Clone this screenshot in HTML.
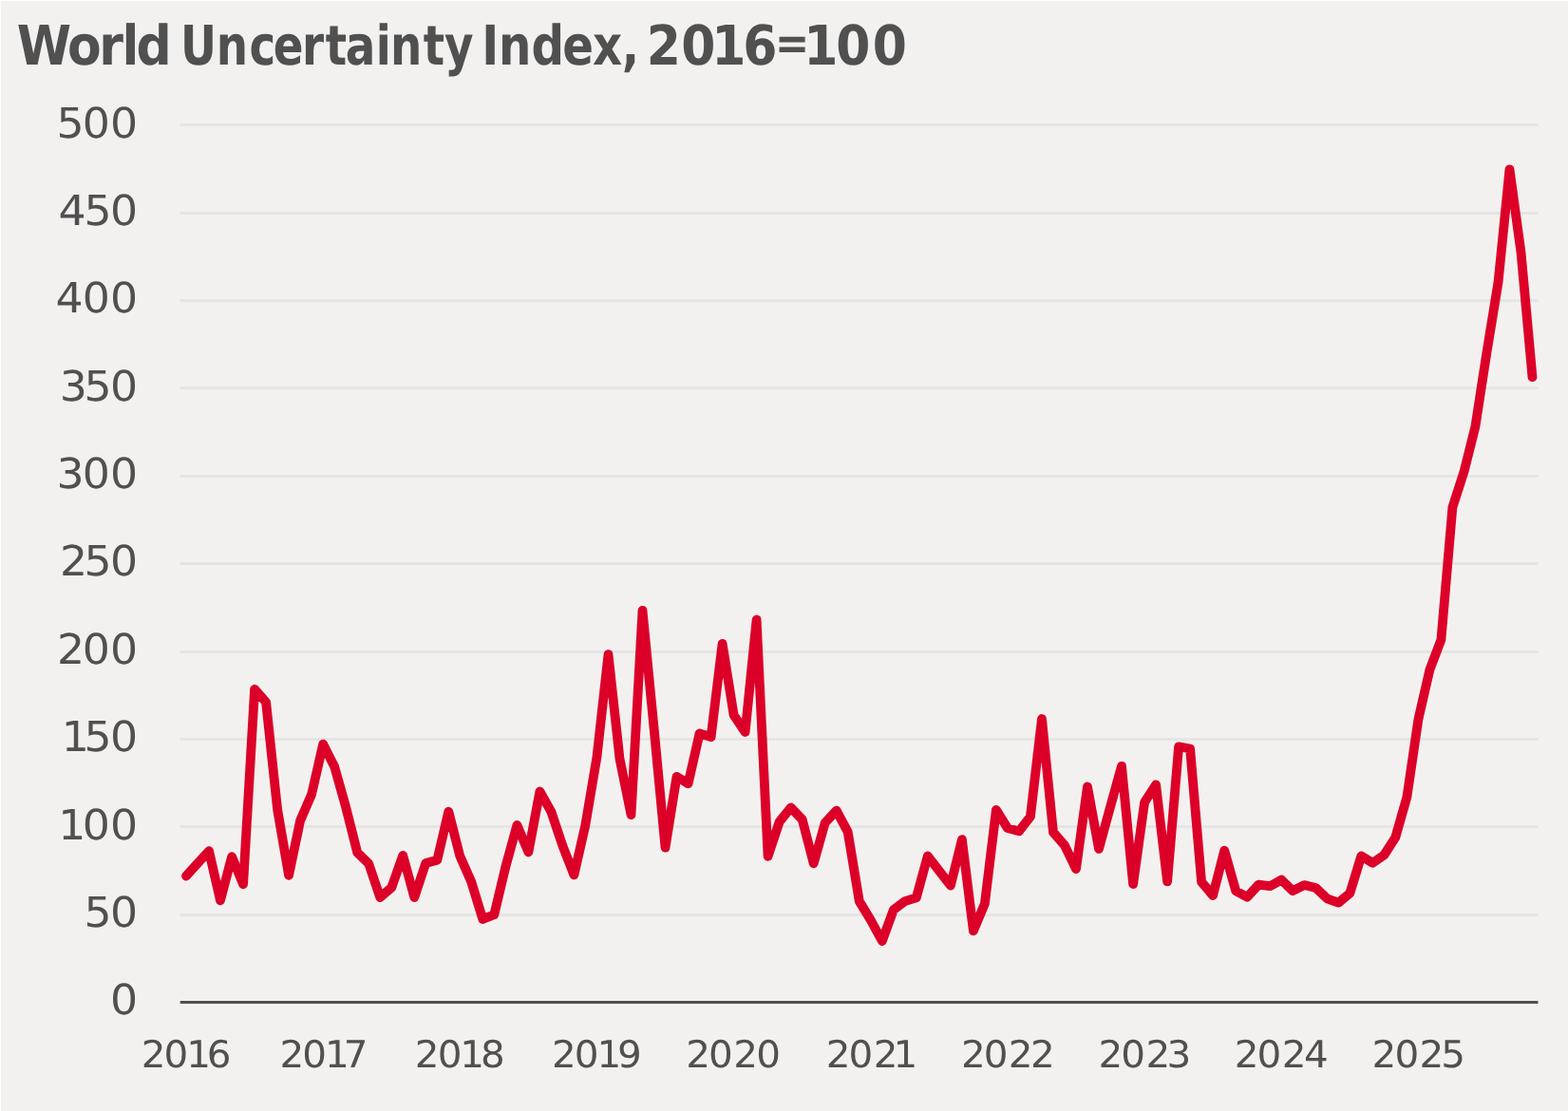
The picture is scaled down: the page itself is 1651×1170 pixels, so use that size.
<!DOCTYPE html>
<html lang="en">
<head>
<meta charset="utf-8">
<title>World Uncertainty Index, 2016=100</title>
<style>
html, body { margin: 0; padding: 0; }
body { width: 1651px; height: 1170px; overflow: hidden; background: #ffffff; position: relative; }
#panel { position: absolute; left: 1px; top: 1px; width: 1650px; height: 1169px; background: #f3f1ef; }
svg { position: absolute; left: 0; top: 0; display: block; }
text { fill: #505050; text-rendering: geometricPrecision; }
.title { font-family: "DejaVu Sans Condensed", "DejaVu Sans", "Liberation Sans", sans-serif; font-weight: bold; font-stretch: condensed; font-size: 57.75px; }
.yl { font-family: "DejaVu Sans", "Liberation Sans", sans-serif; font-size: 44.0px; }
.xl { font-family: "DejaVu Sans", "Liberation Sans", sans-serif; font-size: 39.3px; }
.grid rect { fill: #e5e5e5; }
</style>
</head>
<body>
<div id="panel"></div>
<svg width="1651" height="1170" viewBox="0 0 1651 1170" role="img" aria-label="World Uncertainty Index, 2016=100">
<g class="title">
<text x="17.7 71.1 104.3 128.4 143.4" y="68">World</text>
<text transform="scale(0.9,1)" x="211.1 253.2 291.6 319.6 353.3 380.9 404.2 439.6 456.7 495.4 519.9" y="68">Uncertainty</text>
<text transform="scale(0.93,1)" x="545.3 564.4 601.6 636.8 670.9 704.1" y="68">Index,</text>
<text x="680.7 717.3 749.2 782.2 815.9 846.2 880.2 918.7" y="68">2016<tspan font-size="48.0" dy="-5.8">=</tspan><tspan dy="5.8">100</tspan></text>
</g>
<g class="grid">
<rect x="189.7" y="130" width="1429.8" height="3"/>
<rect x="189.7" y="223" width="1429.8" height="3"/>
<rect x="189.7" y="315" width="1429.8" height="3"/>
<rect x="189.7" y="407" width="1429.8" height="3"/>
<rect x="189.7" y="500" width="1429.8" height="3"/>
<rect x="189.7" y="592" width="1429.8" height="3"/>
<rect x="189.7" y="685" width="1429.8" height="3"/>
<rect x="189.7" y="777" width="1429.8" height="3"/>
<rect x="189.7" y="869" width="1429.8" height="3"/>
<rect x="189.7" y="962" width="1429.8" height="3"/>
</g>
<rect x="189.7" y="1054" width="1429.8" height="3" fill="#505050"/>
<g class="yl">
<text transform="scale(1.04,1)" x="57.1 83.3 111.5" y="145">500</text>
<text transform="scale(1.04,1)" x="59.2 85.1 111.5" y="237">450</text>
<text transform="scale(1.04,1)" x="56.3 83.3 111.5" y="329">400</text>
<text transform="scale(1.04,1)" x="60.3 85.1 111.5" y="422">350</text>
<text transform="scale(1.04,1)" x="57.3 83.3 111.5" y="514">300</text>
<text transform="scale(1.04,1)" x="60.6 85.1 111.5" y="606">250</text>
<text transform="scale(1.04,1)" x="57.6 83.3 111.5" y="699">200</text>
<text transform="scale(1.04,1)" x="62.3 85.1 111.5" y="791">150</text>
<text transform="scale(1.04,1)" x="58.9 83.3 111.5" y="884">100</text>
<text transform="scale(1.04,1)" x="85.1 111.5" y="976">50</text>
<text transform="scale(1.04,1)" x="111.5" y="1068">0</text>
</g>
<g class="xl">
<text transform="scale(1.03,1)" x="144.5 167.5 190.5 211.5" y="1124">2016</text>
<text transform="scale(1.03,1)" x="285.9 309.0 332.1 351.2" y="1124">2017</text>
<text transform="scale(1.03,1)" x="424.0 447.3 470.1 491.3" y="1124">2018</text>
<text transform="scale(1.03,1)" x="564.1 587.2 610.3 631.1" y="1124">2019</text>
<text transform="scale(1.03,1)" x="701.1 724.4 749.7 773.0" y="1124">2020</text>
<text transform="scale(1.03,1)" x="844.4 867.4 893.0 913.1" y="1124">2021</text>
<text transform="scale(1.03,1)" x="982.5 1005.6 1030.9 1053.4" y="1124">2022</text>
<text transform="scale(1.03,1)" x="1122.8 1145.9 1171.3 1192.7" y="1124">2023</text>
<text transform="scale(1.03,1)" x="1262.0 1285.0 1310.4 1332.9" y="1124">2024</text>
<text transform="scale(1.03,1)" x="1402.5 1425.7 1451.0 1473.1" y="1124">2025</text>
</g>
<polyline fill="none" stroke="#dc0028" stroke-width="9.8" stroke-linejoin="round" stroke-linecap="round" points="196.0,922.6 208.0,909.2 220.0,896.2 232.0,948.3 244.1,902.2 256.1,931.3 268.1,725.8 280.1,739.4 292.1,852.3 304.1,921.8 316.1,864.3 328.1,836.5 340.2,783.6 352.2,807.5 364.2,850.2 376.2,897.8 388.2,909.5 400.2,945.0 412.2,934.8 424.2,900.8 436.3,945.0 448.3,909.0 460.3,905.8 472.3,854.7 484.3,901.6 496.3,928.7 508.3,968.0 520.3,963.3 532.4,912.6 544.4,869.0 556.4,897.4 568.4,833.5 580.4,854.9 592.4,890.8 604.4,921.4 616.4,868.8 628.5,797.0 640.5,689.2 652.5,799.0 664.5,858.1 676.5,642.9 688.5,766.0 700.5,892.6 712.5,817.9 724.6,825.2 736.6,772.3 748.6,776.2 760.6,677.8 772.6,753.0 784.6,771.0 796.6,652.7 808.6,901.8 820.7,865.4 832.7,850.5 844.7,863.0 856.7,909.3 868.7,866.5 880.7,853.6 892.7,876.1 904.8,949.1 916.8,969.0 928.8,991.0 940.8,958.2 952.8,949.1 964.8,945.4 976.8,901.5 988.8,917.0 1000.9,932.6 1012.9,884.1 1024.9,980.4 1036.9,951.7 1048.9,852.9 1060.9,872.1 1072.9,875.4 1084.9,860.1 1097.0,757.0 1109.0,876.5 1121.0,890.3 1133.0,915.1 1145.0,828.5 1157.0,893.9 1169.0,850.0 1181.0,806.8 1193.1,931.0 1205.1,844.9 1217.1,826.4 1229.1,928.4 1241.1,786.3 1253.1,788.5 1265.1,928.8 1277.1,943.0 1289.2,895.7 1301.2,938.2 1313.2,944.7 1325.2,931.6 1337.2,933.2 1349.2,926.6 1361.2,938.2 1373.2,932.1 1385.3,934.9 1397.3,946.3 1409.3,950.6 1421.3,940.8 1433.3,901.5 1445.3,908.7 1457.3,900.5 1469.3,881.9 1481.4,839.4 1493.4,757.5 1505.4,705.3 1517.4,673.7 1529.4,534.2 1541.4,497.1 1553.4,449.3 1565.4,371.5 1577.5,297.4 1589.5,178.3 1601.5,265.7 1613.5,397.2"/>
</svg>
</body>
</html>
